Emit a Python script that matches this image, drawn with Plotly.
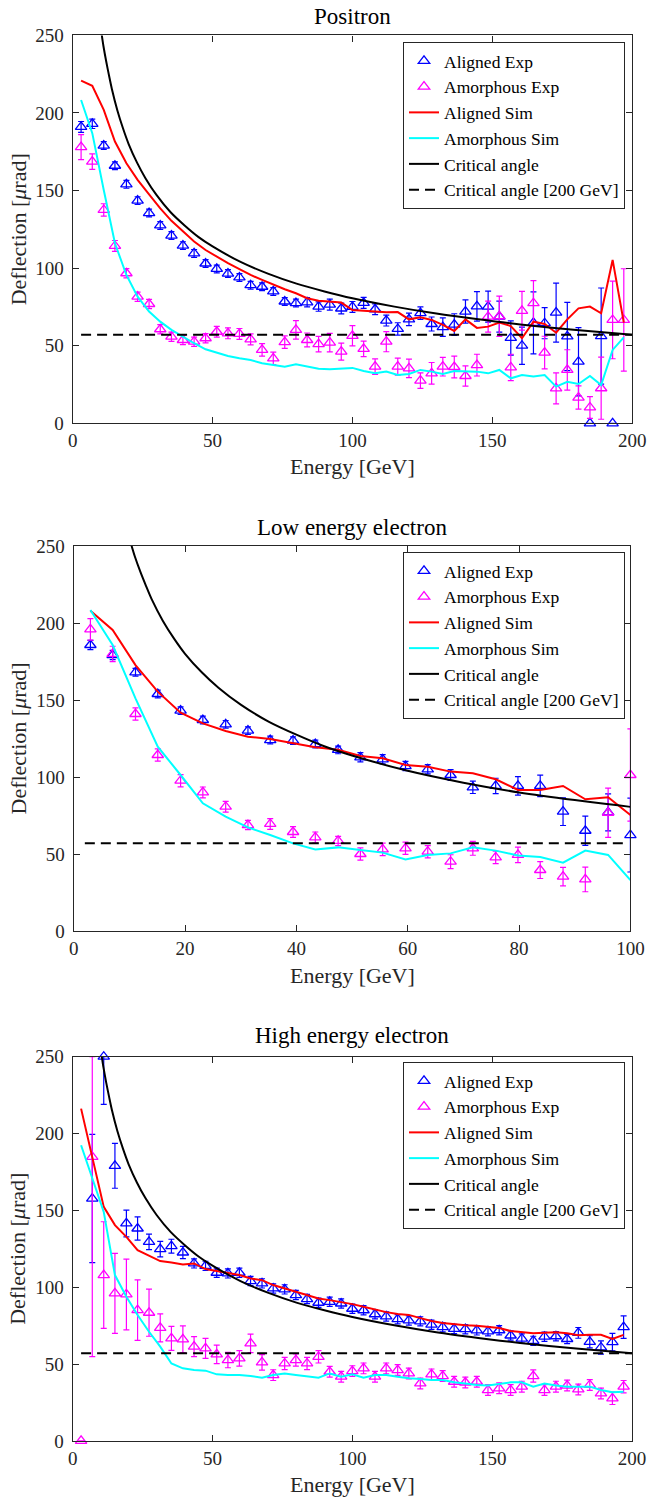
import plotly.graph_objects as go

# ---------------- data ----------------
energy = [3.0, 7.0, 11.1, 15.1, 19.2, 23.2, 27.3, 31.3, 35.3, 39.4, 43.4, 47.5, 51.5, 55.5, 59.6,
          63.6, 67.7, 71.7, 75.8, 79.8, 83.8, 87.9, 91.9, 96.0, 100.0, 104.0, 108.1, 112.1, 116.2,
          120.2, 124.3, 128.3, 132.3, 136.4, 140.4, 144.5, 148.5, 152.5, 156.6, 160.6, 164.7, 168.7,
          172.8, 176.8, 180.8, 184.9, 188.9, 193.0, 197.0]
energy_low = [3.0, 7.0, 11.1, 15.1, 19.2, 23.2, 27.3, 31.3, 35.3, 39.4, 43.4, 47.5, 51.5, 55.5, 59.6,
              63.6, 67.7, 71.7, 75.8, 79.8, 83.8, 87.9, 91.9, 96.0, 100.0]

# Positron
pos_al_exp = [191, 193, 179, 166, 154, 143.5, 135.5, 127.5, 121, 114.5, 109.5, 103, 99.5, 96.5, 94,
              89, 88, 85, 78.5, 77.5, 78, 75.2, 76.5, 74, 75, 77.6, 73.5, 66.2, 60.8, 67, 71, 64, 62,
              63.6, 72, 75.4, 75.2, 68.8, 55, 50, 64.7, 64.5, 71.3, 56, 39.7, 0, 56.2, 0, None]
pos_al_err = [3.5, 3, 2.5, 2.5, 2.5, 2.5, 2.5, 2.5, 2.5, 2.5, 2.5, 2.5, 2.5, 2.5, 2.5, 2.5, 2.5, 2.5,
              2.5, 2.5, 3, 3, 3.5, 3.5, 3.5, 3.5, 3.5, 3.5, 4, 4, 4, 4.5, 6, 7, 7.5, 9.5, 10, 10, 11,
              12, 20, 10, 19, 22, 22, 0, 31, 0, 0]
pos_am_exp = [178, 168.7, 137.5, 114.3, 96.7, 81.6, 76.9, 60.6, 55.8, 53.7, 52.6, 54.8, 59, 58, 57.6,
              54.1, 47.3, 41.9, 52.3, 60.2, 53.7, 51, 52, 46.2, 56.4, 48, 36.5, 52.6, 36.5, 35.4, 27.5,
              32.2, 36.5, 36.3, 30.5, 37.5, 68.7, 69, 36, 72.5, 77.4, 45.6, 22.5, 34.4, 16.6, 10.2,
              22.6, 66.6, 66.6]
pos_am_err = [8, 5, 4, 3.5, 3, 3, 3, 3, 3, 3, 3, 3, 3.5, 3.5, 3.5, 3.5, 4, 4, 4, 6, 4.5, 5, 6, 5.5,
              6.5, 5, 5, 6.5, 5.5, 6, 5, 7, 6, 7, 6.5, 7, 10, 13, 8.5, 12.5, 14.5, 10.5, 10, 13, 7.5,
              7, 20, 25, 33]
pos_al_sim = [220.8, 217.5, 202, 181.6, 167.6, 156.9, 147.5, 138.5, 130.5, 123.5, 117.2, 111.7, 107.4,
              103.2, 99.3, 95.6, 92.4, 89.2, 86.4, 83.8, 80.6, 79.0, 78.4, 77.8, 73.0, 72.6, 72.0,
              71.5, 71.7, 67.0, 68.3, 66.6, 63.4, 59.5, 67.0, 61.5, 62.3, 64.9, 62.7, 54.8, 65.5,
              64.0, 58.4, 67.0, 74.1, 75.2, 70.9, 105.3, 64.9]
pos_am_sim = [208.4, 187, 150.4, 116, 95.6, 81.6, 72, 65.5, 60.2, 55.8, 51.6, 47.7, 45.5, 43.4, 41.9,
              40.8, 38.7, 37.6, 36.5, 38.0, 36.5, 35.2, 34.8, 35.3, 35.7, 33.7, 32.2, 33.3, 31.1, 31.8,
              34.4, 33.3, 31.8, 33.7, 33.3, 33.3, 32.2, 34.4, 29.0, 31.1, 30.1, 31.1, 23.6, 26.8,
              25.3, 30.5, 24.7, 47.3, 55.4]

# Low energy electron
low_al_exp = [185.7, 179.2, 168, 153.9, 143.1, 137, 134.2, 130.1, 124, 123.6, 121.4, 117.6, 112.8,
              111.5, 107.1, 105, 101.3, 93.3, 94.2, 94.2, 94.2, 77.5, 65.1, 77, 62.3]
low_al_err = [3, 3, 2.5, 2.5, 2.5, 2.5, 2.5, 2.5, 2.5, 2.5, 2.5, 2.5, 3, 3, 3, 3, 3.5, 4, 5, 6, 7, 9,
              9.5, 12, 24]
low_am_exp = [195.9, 179.9, 140.9, 114.3, 97.6, 90, 80.7, 68.8, 69.5, 64.3, 60.8, 58.5, 50, 53, 53.7,
              51.5, 45, 53.7, 47.8, 49.4, 39.6, 35.3, 33.5, 76.8, 101.3]
low_am_err = [7, 5, 4, 4, 4, 3.5, 3.5, 3, 3.5, 3.5, 3.5, 3, 4, 4, 4, 4, 4.5, 4.5, 4, 5, 5.5, 6, 8,
              16, 30]
low_al_sim = [208, 195.5, 172.7, 155.4, 141.8, 134.8, 129.9, 126.2, 124.7, 121.9, 119.3, 117.7, 113.7,
              112.2, 107.8, 106.7, 103.5, 102.4, 98.5, 91.6, 91.6, 94.2, 85.5, 86.8, 75.3]
low_am_sim = [208.4, 185.7, 151.1, 119.7, 101.3, 82.9, 74.2, 67.3, 62.3, 56.9, 53, 54.3, 52.6, 50.9,
              46.5, 49.4, 50.4, 54.3, 52.2, 49, 48.1, 44.4, 52.2, 49.4, 33.1]

# High energy electron
high_al_exp = [None, 157.7, 250, 179, 141.5, 138.2, 129.5, 124.8, 126.7, 122.6, 115.5, 113.9, 109.4,
               109, 109.4, 104, 102.5, 99.2, 98.6, 94.9, 92.3, 89.9, 90.5, 89.4, 86, 85, 82.4, 81,
               79.2, 78.4, 77.8, 75.6, 74, 72.9, 72.7, 71.9, 71.3, 72, 68.6, 66.6, 65.1, 67.8, 68.1,
               66.3, 70.3, 64.5, 60.8, 64.3, 74]
high_al_err = [0, 41.7, 31, 14.6, 8.7, 7.6, 5, 5, 4.5, 4, 3, 3, 3, 3, 3, 3, 3, 3, 3, 3, 3, 3, 3, 3, 3,
               3, 3, 3, 3, 3, 3, 3, 3, 3, 3, 3, 3, 3, 3, 3, 3, 3, 3, 3, 3.5, 4, 4.3, 5.7, 7.3]
high_am_exp = [0, 184.8, 107.9, 96, 95.3, 85.1, 83.4, 73.6, 66.7, 66.1, 61.3, 60.2, 56.3, 52.6, 53.7,
               63.5, 51.1, 42.8, 50.4, 52.6, 50.4, 54.7, 45, 41.8, 45.4, 47.2, 41.8, 47.2, 46.1, 43.9,
               37.4, 43.3, 42.2, 38.5, 38, 38.5, 33.1, 34.2, 33.1, 35.3, 42.2, 33.1, 35.3, 36, 33.5,
               36.4, 30.9, 27.7, 35.3]
high_am_err = [0, 130, 34.7, 26, 23, 19.7, 15.3, 9.1, 7.8, 8.7, 6.5, 6.5, 6, 5, 5, 6, 5, 3.5, 4, 4, 4,
               4, 3.5, 3.5, 3.5, 3.5, 3.5, 3.5, 3.5, 3.5, 3.5, 3.5, 3.5, 3.5, 3.5, 3.5, 3.5, 3.5, 3.5,
               3.5, 4, 3.5, 3.5, 3.5, 3.5, 3.5, 3.5, 4, 4]
high_al_sim = [216.2, 183.7, 152.3, 140.4, 132.8, 124.1, 120.4, 117, 116.1, 114.8, 115.5, 111.8, 110.5,
               109, 107.9, 105.7, 104.6, 101.4, 99.2, 96.6, 94.5, 92.7, 91.6, 90.5, 89, 87.3, 85.4,
               83.8, 82.6, 82, 79.9, 78, 76.7, 75.9, 75.2, 75, 74, 73.4, 71.5, 71, 70, 70.4, 70.7, 70,
               68.8, 69, 69, 66.3, 69]
high_am_sim = [192.4, 170.7, 149, 107.9, 93.8, 81.9, 71, 61.3, 50.4, 47.2, 46.1, 45.7, 43.3, 42.9, 42.9,
               42.2, 41.1, 42.9, 43.9, 42.9, 41.8, 41.1, 43.9, 41.8, 43.4, 41.1, 42.9, 42.9, 41.8,
               40.7, 40.3, 39.6, 39.6, 38.1, 37.4, 36.4, 36, 36.8, 38.1, 38.1, 35.3, 37.4, 36, 35.3,
               35.3, 35.3, 33.1, 31.6, 32]

# Critical angle curve
crit_E = [10, 11, 12, 13, 14, 16, 18, 20, 23, 26, 30, 35, 40, 45, 50, 60, 70, 80, 90, 100, 115, 130,
          145, 160, 180, 200]
crit_val = [255, 243, 233, 224, 215.5, 201.5, 190, 180, 168, 158, 147, 136, 127.5, 120, 114, 104,
            96.3, 90, 85, 80.6, 75.2, 70.7, 67, 63.7, 60.1, 57]
crit_200 = 57
dash_x_pos = [3, 200]
dash_x_low = [2, 99.3]
dash_x_high = [3, 200]

titles = ["Positron", "Low energy electron", "High energy electron"]
x_ticks_wide = [0, 50, 100, 150, 200]
x_ticks_low = [0, 20, 40, 60, 80, 100]
y_ticks = [0, 50, 100, 150, 200, 250]

# ---------------- figure ----------------
W, H = 647, 1499
FONT = "Liberation Serif"
AXC = "#262626"
YMAX = 250


def fx(p):
    return p / W


def fy(p):
    return 1 - p / H


fig = go.Figure()


def err_arrays(vals, errs):
    plus, minus = [], []
    for v, e in zip(vals, errs):
        if v is None:
            plus.append(0)
            minus.append(0)
        else:
            plus.append(max(0, min(e, YMAX - v)))
            minus.append(min(e, v))
    return plus, minus


def add_panel(idx, E, al, al_e, am, am_e, al_s, am_s, dash_x, legend_name):
    xa = "x" if idx == 1 else "x%d" % idx
    ya = "y" if idx == 1 else "y%d" % idx
    for name, vals, errs, col in [("Aligned Exp", al, al_e, "#0000FF"),
                                  ("Amorphous Exp", am, am_e, "#FF00FF")]:
        p, m = err_arrays(vals, errs)
        fig.add_trace(go.Scatter(
            x=E, y=vals, mode="markers", name=name, legend=legend_name,
            xaxis=xa, yaxis=ya, cliponaxis=False,
            marker=dict(symbol="triangle-up-open", size=10, color=col,
                        line=dict(width=1.3, color=col)),
            error_y=dict(type="data", symmetric=False, array=p, arrayminus=m,
                         color=col, thickness=1.2, width=3)))
    fig.add_trace(go.Scatter(x=E, y=al_s, mode="lines", name="Aligned Sim", legend=legend_name,
                             xaxis=xa, yaxis=ya, line=dict(color="#FF0000", width=2)))
    fig.add_trace(go.Scatter(x=E, y=am_s, mode="lines", name="Amorphous Sim", legend=legend_name,
                             xaxis=xa, yaxis=ya, line=dict(color="#00FFFF", width=2)))
    fig.add_trace(go.Scatter(x=crit_E, y=crit_val, mode="lines", name="Critical angle",
                             legend=legend_name, xaxis=xa, yaxis=ya,
                             line=dict(color="black", width=2, shape="spline", smoothing=0.8)))
    fig.add_trace(go.Scatter(x=dash_x, y=[crit_200, crit_200], mode="lines",
                             name="Critical angle [200 GeV]", legend=legend_name,
                             xaxis=xa, yaxis=ya,
                             line=dict(color="black", width=2, dash="10px,6px")))


add_panel(1, energy, pos_al_exp, pos_al_err, pos_am_exp, pos_am_err, pos_al_sim, pos_am_sim,
          dash_x_pos, "legend")
add_panel(2, energy_low, low_al_exp, low_al_err, low_am_exp, low_am_err, low_al_sim, low_am_sim,
          dash_x_low, "legend2")
add_panel(3, energy, high_al_exp, high_al_err, high_am_exp, high_am_err, high_al_sim, high_am_sim,
          dash_x_high, "legend3")

# panel geometry in pixels: (x0, x1, ytop, ybottom)
geo = [(72.7, 632.2, 35.4, 423.3), (73.7, 630.4, 546.0, 931.0), (72.7, 632.0, 1056.7, 1440.9)]
xranges = [[0, 200], [0, 100], [0, 200]]
xticks = [x_ticks_wide, x_ticks_low, x_ticks_wide]

axis_common = dict(showline=True, linecolor=AXC, linewidth=1.2, mirror="ticks", ticks="inside",
                   ticklen=6, tickwidth=1, tickcolor=AXC, showgrid=False, zeroline=False,
                   automargin=False,
                   tickfont=dict(family=FONT, size=19, color=AXC))

layout_axes = {}
for i, (x0, x1, yt, yb) in enumerate(geo, start=1):
    sx = "" if i == 1 else str(i)
    layout_axes["xaxis" + sx] = dict(axis_common, domain=[fx(x0), fx(x1)], range=xranges[i - 1],
                                     tickvals=xticks[i - 1], anchor="y" + sx)
    layout_axes["yaxis" + sx] = dict(axis_common, domain=[fy(yb), fy(yt)], range=[0, YMAX],
                                     tickvals=y_ticks, anchor="x" + sx, ticklabelstandoff=4)

fig.update_layout(**layout_axes)

leg_common = dict(xanchor="right", yanchor="top", bgcolor="white", bordercolor=AXC, borderwidth=1,
                  font=dict(family=FONT, size=17.5, color="black"), tracegroupgap=0,
                  itemwidth=30, traceorder="normal")
fig.update_layout(
    width=W, height=H, margin=dict(l=0, r=0, t=0, b=0, pad=0, autoexpand=False),
    paper_bgcolor="white", plot_bgcolor="white",
    font=dict(family=FONT, color=AXC),
    legend=dict(leg_common, x=fx(625), y=fy(42)),
    legend2=dict(leg_common, x=fx(625), y=fy(552)),
    legend3=dict(leg_common, x=fx(625), y=fy(1062)),
)

annots = []
title_y = [17, 527, 1035]
xlabel_y = [466, 975, 1484]
for i, (x0, x1, yt, yb) in enumerate(geo):
    cx = (x0 + x1) / 2
    annots.append(dict(text=titles[i], x=fx(cx), y=fy(title_y[i]), xref="paper", yref="paper",
                       showarrow=False, xanchor="center", yanchor="middle",
                       font=dict(family=FONT, size=23, color="black")))
    annots.append(dict(text="Energy [GeV]", x=fx(cx), y=fy(xlabel_y[i]), xref="paper",
                       yref="paper", showarrow=False, xanchor="center", yanchor="middle",
                       font=dict(family=FONT, size=22, color=AXC)))
    annots.append(dict(text="Deflection [<i>μ</i>rad]", x=fx(18), y=fy((yt + yb) / 2),
                       xref="paper", yref="paper", showarrow=False, textangle=-90,
                       xanchor="center", yanchor="middle",
                       font=dict(family=FONT, size=22, color=AXC)))
fig.update_layout(annotations=annots)

fig.write_html("out.html")
